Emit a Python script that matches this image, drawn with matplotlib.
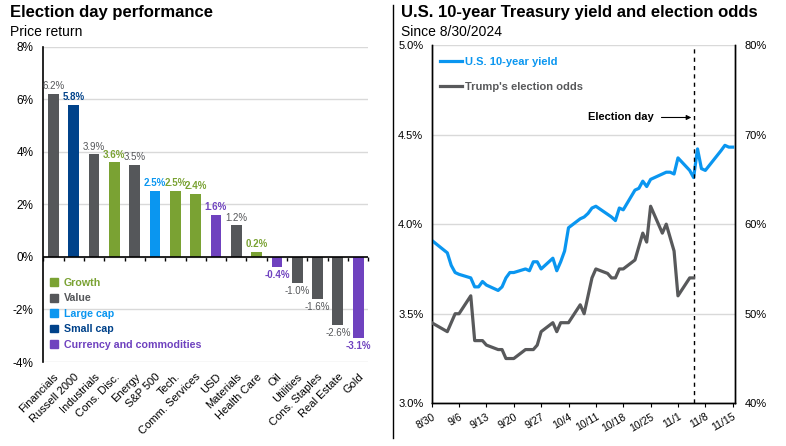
import matplotlib
matplotlib.use('Agg')
import matplotlib.pyplot as plt
from matplotlib.patches import Patch
from matplotlib.lines import Line2D
import numpy as np
import pandas as pd

plt.rcParams['font.family'] = ['Liberation Sans', 'DejaVu Sans']

# colours
GRAY = '#55575a'
NAVY = '#00428a'
GREEN = '#7aa233'
BLUE = '#0a96f0'
PURPLE = '#6f42bf'
LINEGRAY = '#58595b'

# ---- left panel data
categories = ['Financials', 'Russell 2000', 'Industrials', 'Cons. Disc.', 'Energy', 'S&P 500',
              'Tech.', 'Comm. Services', 'USD', 'Materials', 'Health Care', 'Oil', 'Utilities',
              'Cons. Staples', 'Real Estate', 'Gold']
returns = [6.2, 5.8, 3.9, 3.6, 3.5, 2.5, 2.5, 2.4, 1.6, 1.2, 0.2, -0.4, -1.0, -1.6, -2.6, -3.1]
groups = ['Value', 'Small cap', 'Value', 'Growth', 'Value', 'Large cap', 'Growth', 'Growth',
          'Currency and commodities', 'Value', 'Growth', 'Currency and commodities', 'Value',
          'Value', 'Value', 'Currency and commodities']
legend_order = ['Growth', 'Value', 'Large cap', 'Small cap', 'Currency and commodities']
group_colors = {'Growth': GREEN, 'Value': GRAY, 'Large cap': BLUE, 'Small cap': NAVY,
                'Currency and commodities': PURPLE}

# ---- right panel data
yield_dates = ['8/30', '9/3', '9/4', '9/5', '9/6', '9/9', '9/10', '9/11', '9/12', '9/13',
               '9/16', '9/17', '9/18', '9/19', '9/20', '9/23', '9/24', '9/25', '9/26', '9/27',
               '9/30', '10/1', '10/2', '10/3', '10/4', '10/7', '10/8', '10/9', '10/10', '10/11',
               '10/15', '10/16', '10/17', '10/18', '10/21', '10/22', '10/23', '10/24', '10/25',
               '10/28', '10/29', '10/30', '10/31', '11/1', '11/4', '11/5', '11/6', '11/7', '11/8',
               '11/12', '11/13', '11/14', '11/15']
yields = [3.91, 3.84, 3.77, 3.73, 3.72, 3.70, 3.65, 3.65, 3.68, 3.66,
          3.63, 3.65, 3.70, 3.73, 3.73, 3.75, 3.74, 3.79, 3.79, 3.75,
          3.81, 3.74, 3.79, 3.85, 3.98, 4.03, 4.04, 4.06, 4.09, 4.10,
          4.04, 4.02, 4.09, 4.08, 4.19, 4.20, 4.24, 4.21, 4.25,
          4.28, 4.29, 4.29, 4.28, 4.37, 4.30, 4.26, 4.42, 4.31, 4.30,
          4.41, 4.44, 4.43, 4.43]
odds_dates = ['8/30', '9/3', '9/4', '9/5', '9/6', '9/9', '9/10', '9/11', '9/12', '9/13',
              '9/16', '9/17', '9/18', '9/19', '9/20', '9/23', '9/24', '9/25', '9/26', '9/27',
              '9/30', '10/1', '10/2', '10/3', '10/4', '10/7', '10/8', '10/9', '10/10', '10/11',
              '10/14', '10/15', '10/16', '10/17', '10/18', '10/21', '10/22', '10/23', '10/24',
              '10/25', '10/28', '10/29', '10/30', '10/31', '11/1', '11/4', '11/5']
odds = [49, 48, 49, 50, 50, 52, 47, 47, 47, 46.5,
        46, 46, 45, 45, 45, 46, 46, 46, 46.5, 48,
        49, 48, 49, 49, 49, 51, 50, 52, 54, 55,
        54.5, 54, 54, 55, 55, 56, 57.5, 59, 58,
        62, 59, 60, 58.5, 57, 52, 54, 54]
election_day = '11/5'


def to_dt(s):
    return pd.to_datetime([f'2024/{d}' for d in s], format='%Y/%m/%d')


fig = plt.figure(figsize=(7.86, 4.46), dpi=100)

# ================= left panel
ax1 = fig.add_axes([0.0551, 0.1883, 0.4135, 0.707])
x = np.arange(len(categories))
cols = [group_colors[g] for g in groups]
ax1.bar(x, returns, width=0.53, color=cols, zorder=3)
ax1.set_xlim(-0.5, len(categories) - 0.5)
ax1.set_ylim(-4, 8)
ax1.set_yticks(np.arange(-4, 9, 2))
ax1.yaxis.set_major_formatter(lambda v, p: f'{v:.0f}%')
ax1.grid(axis='y', color='#d9d9d9', lw=1)
ax1.set_axisbelow(True)
for s in ['top', 'right', 'bottom']:
    ax1.spines[s].set_visible(False)
ax1.spines['left'].set_color('black')
ax1.spines['left'].set_linewidth(1.2)
ax1.tick_params(axis='y', length=0, labelsize=8.5, pad=7)
ax1.set_xticks(x)
ax1.set_xticklabels(categories, rotation=45, ha='right', rotation_mode='anchor', fontsize=8)
ax1.tick_params(axis='x', length=0, pad=7)
ax1.axhline(0, color='black', lw=1.2, zorder=4)

# small ticks between bars on the zero line
zpos = (0 - ax1.get_ylim()[0]) / (ax1.get_ylim()[1] - ax1.get_ylim()[0])
sec = ax1.secondary_xaxis(zpos)
sec.set_xticks(np.arange(-0.5, len(categories), 1.0))
sec.tick_params(length=3, width=1, direction='out', labelbottom=False, labeltop=False)
sec.spines['bottom'].set_visible(False)
sec.spines['top'].set_visible(False)

for xi, v, g in zip(x, returns, groups):
    c = group_colors[g]
    ax1.annotate(f'{v:.1f}%', (xi, v), xytext=(0, 2 if v >= 0 else -2),
                 textcoords='offset points', ha='center',
                 va='bottom' if v >= 0 else 'top', fontsize=7.0, color=c,
                 fontweight='normal' if g == 'Value' else 'bold', zorder=5)

handles = [Patch(color=group_colors[g]) for g in legend_order]
leg = ax1.legend(handles, legend_order, loc='upper left', bbox_to_anchor=(0.02, 0.266),
                 frameon=False, handlelength=0.75, handleheight=0.75, handletextpad=0.55,
                 labelspacing=0.5, borderpad=0, borderaxespad=0,
                 prop={'weight': 'bold', 'size': 7.7})
for t, g in zip(leg.get_texts(), legend_order):
    t.set_color(group_colors[g])

# ================= right panel
ax2 = fig.add_axes([0.5492, 0.0957, 0.3859, 0.8034])
ax3 = ax2.twinx()
ax2.plot(to_dt(yield_dates), yields, color=BLUE, lw=2.3, label='U.S. 10-year yield', zorder=3)
ax3.plot(to_dt(odds_dates), odds, color=LINEGRAY, lw=2.3, label="Trump's election odds", zorder=3)

start = pd.Timestamp('2024-08-30')
end = pd.Timestamp('2024-11-15')
ax2.set_xlim(start, end + pd.Timedelta(hours=14))
ax2.set_ylim(3.0, 5.0)
ax3.set_ylim(40, 80)
ax2.set_yticks(np.arange(3.0, 5.01, 0.5))
ax3.set_yticks(np.arange(40, 81, 10))
ax2.yaxis.set_major_formatter(lambda v, p: f'{v:.1f}%')
ax3.yaxis.set_major_formatter(lambda v, p: f'{v:.0f}%')
ax2.grid(axis='y', color='#d9d9d9', lw=1)
ax2.set_axisbelow(True)

weeks = pd.date_range(start, end, freq='7D')
ax2.set_xticks(weeks)
ax2.set_xticklabels([f'{d.month}/{d.day}' for d in weeks], rotation=30, ha='right',
                    rotation_mode='anchor', fontsize=7.5)
ax2.tick_params(axis='x', length=3, direction='out', pad=3)
ax2.tick_params(axis='y', length=0, labelsize=8, pad=6)
ax3.tick_params(axis='y', length=0, labelsize=8, pad=7)
for a in (ax2, ax3):
    a.spines['top'].set_visible(False)
    for s in ['left', 'right', 'bottom']:
        a.spines[s].set_color('black')
        a.spines[s].set_linewidth(1.0)

ed = pd.Timestamp(f'2024/{election_day}')
ax2.axvline(ed, color='black', lw=1, ls=(0, (3, 3)), zorder=4)
ax2.annotate('Election day', xy=(ed - pd.Timedelta(hours=14), 0.7977),
             xycoords=('data', 'axes fraction'), xytext=(-27, 0), textcoords='offset points',
             ha='right', va='center', fontsize=8, fontweight='bold',
             arrowprops=dict(arrowstyle='-|>', color='black', lw=0.8, mutation_scale=7,
                             shrinkA=3.5, shrinkB=0))

lh = [Line2D([], [], color=BLUE, lw=2.3), Line2D([], [], color=LINEGRAY, lw=2.3)]
leg2 = ax3.legend(lh, ['U.S. 10-year yield', "Trump's election odds"], loc='upper left',
                  bbox_to_anchor=(0.027, 0.966), frameon=False, handlelength=2.0,
                  handletextpad=0.3, labelspacing=1.3, borderpad=0, borderaxespad=0,
                  prop={'weight': 'bold', 'size': 8})
for t, c in zip(leg2.get_texts(), [BLUE, LINEGRAY]):
    t.set_color(c)

# ================= titles and separator
fig.text(10 / 786, 1 - 4.5 / 446, 'Election day performance', fontsize=12, fontweight='bold', va='top')
fig.text(10 / 786, 1 - 24.5 / 446, 'Price return', fontsize=10, va='top')
fig.text(401 / 786, 1 - 4.5 / 446, 'U.S. 10-year Treasury yield and election odds', fontsize=12,
         fontweight='bold', va='top')
fig.text(401 / 786, 1 - 24.5 / 446, 'Since 8/30/2024', fontsize=10, va='top')
fig.add_artist(Line2D([392.5 / 786] * 2, [1 - 5 / 446, 1 - 438 / 446], color='black', lw=1,
                      transform=fig.transFigure))

fig.savefig('out.png', dpi=100)
